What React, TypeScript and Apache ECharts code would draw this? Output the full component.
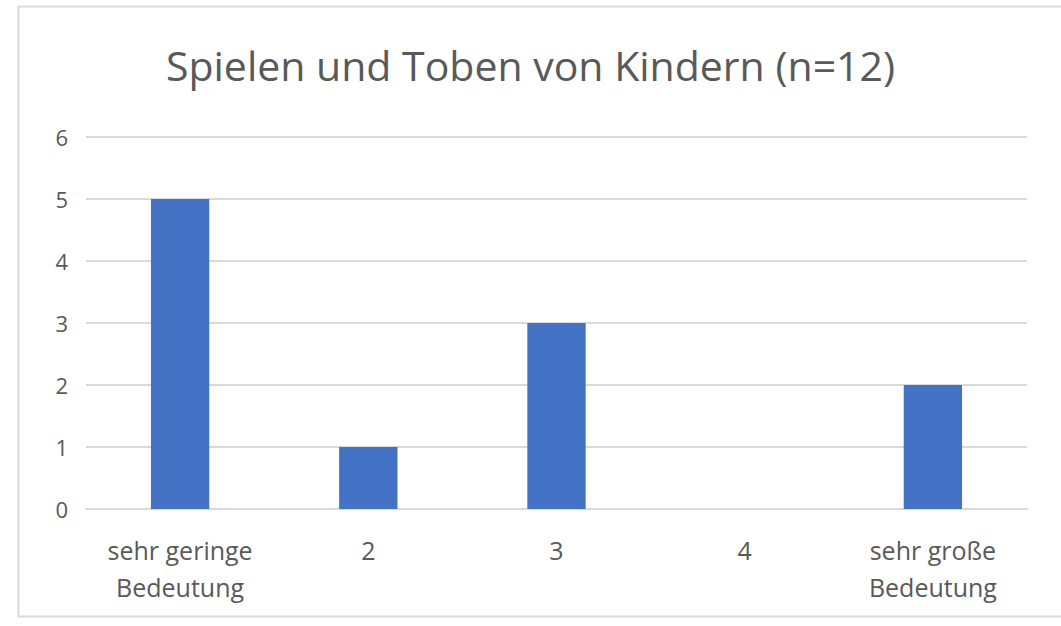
import React, { useEffect, useRef } from "react";
import * as echarts from "echarts";

const categories = ["sehr geringe\nBedeutung", "2", "3", "4", "sehr große\nBedeutung"];
const values = [5, 1, 3, 0, 2];
const titleText = "Spielen und Toben von Kindern (n=12)";

export default function App() {
  const ref = useRef<HTMLDivElement>(null);
  useEffect(() => {
    if (!ref.current) return;
    const chart = echarts.init(ref.current, undefined, { renderer: "svg" });
    chart.setOption({
      animation: false,
      backgroundColor: "#ffffff",
      title: {
        text: titleText,
        left: "center",
        top: 39,
        textStyle: { fontFamily: "Open Sans", fontWeight: "normal", fontSize: 41, color: "#595959" },
      },
      graphic: [
        {
          type: "rect",
          shape: { x: 18.5, y: 6.5, width: 1100, height: 610 },
          style: { fill: "none", stroke: "#d9d9d9", lineWidth: 2 },
          silent: true,
        },
      ],
      grid: { left: 86, right: 34, top: 137, bottom: 117, containLabel: false },
      xAxis: {
        type: "category",
        data: categories,
        axisLine: { show: true, lineStyle: { color: "#d9d9d9", width: 2 } },
        axisTick: { show: false },
        axisLabel: {
          fontFamily: "Open Sans",
          fontSize: 25,
          color: "#595959",
          lineHeight: 37,
          margin: 22,
          interval: 0,
        },
      },
      yAxis: {
        type: "value",
        min: 0,
        max: 6,
        interval: 1,
        axisLine: { show: false },
        axisTick: { show: false },
        splitLine: { lineStyle: { color: "#d9d9d9", width: 2 } },
        axisLabel: { fontFamily: "Open Sans", fontSize: 22, color: "#595959", margin: 18 },
      },
      series: [
        {
          type: "bar",
          data: values,
          barWidth: "31%",
          itemStyle: { color: "#4472C4" },
        },
      ],
    });
    return () => chart.dispose();
  }, []);
  return (
    <div
      ref={ref}
      style={{ position: "absolute", left: 0, top: 0, width: 1061, height: 626 }}
    />
  );
}
